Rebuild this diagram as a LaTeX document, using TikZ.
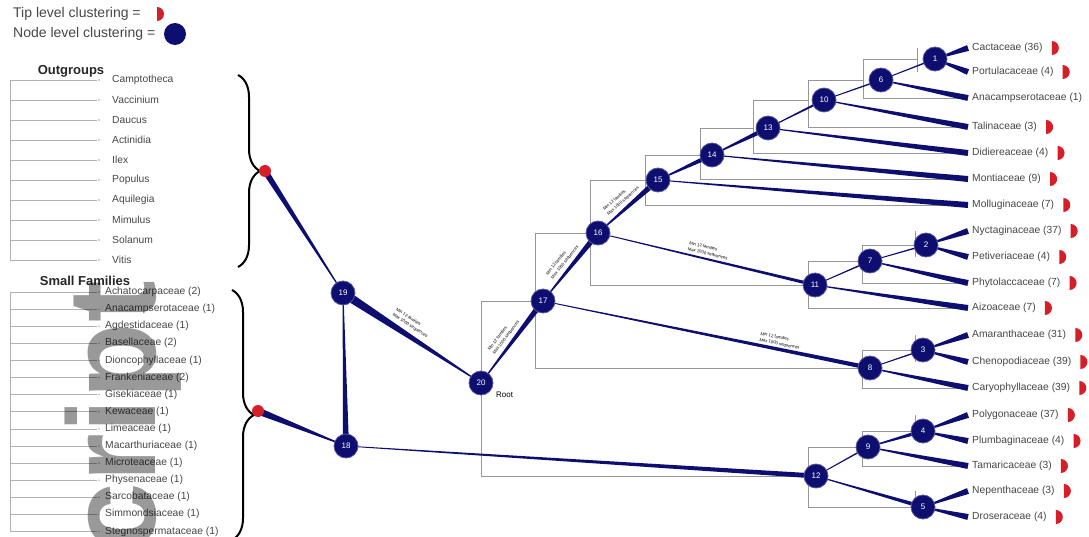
\documentclass[tikz,border=0pt]{standalone}
\usepackage{fontspec}
\setmainfont{Liberation Sans}
\usetikzlibrary{calc,decorations.pathreplacing}

\definecolor{navy}{RGB}{14,14,112}
\definecolor{tipred}{RGB}{214,30,40}
\definecolor{boxgray}{RGB}{150,150,150}
\definecolor{labgray}{RGB}{70,70,70}

% tapered branch: thin at the parent, #4pt half width at the child
\newcommand{\taper}[4][0.4]{%
  \fill[navy] ($(#2)!#1pt!90:(#3)$) -- ($(#2)!#1pt!-90:(#3)$)
    -- ($(#3)!#4pt!90:(#2)$) -- ($(#3)!#4pt!-90:(#2)$) -- cycle;}
% red half disc placed right of a label
\newcommand{\tipmark}[1]{%
  \fill[tipred] ($(#1.east)+(8,-7)$) arc[start angle=-90,end angle=90,radius=7] -- cycle;}

\tikzset{
  bnode/.style={circle,fill=navy,draw=navy!70!white,line width=0.8pt,minimum size=24pt,inner sep=0pt,
    text=white,font=\fontsize{8}{8}\selectfont},
  tiplab/.style={anchor=west,inner sep=1pt,text=labgray,font=\fontsize{10.3}{11}\selectfont},
  leftlab/.style={anchor=west,inner sep=0pt,text=labgray,font=\fontsize{10.3}{11}\selectfont},
  header/.style={anchor=center,inner sep=0pt,font=\bfseries\fontsize{13}{13}\selectfont,text=black!85},
  legtext/.style={anchor=west,inner sep=0pt,font=\fontsize{14}{14}\selectfont,text=labgray},
  annot/.style={sloped,inner sep=0pt,align=left,font=\fontsize{4.3}{6.2}\selectfont},
  gbox/.style={boxgray,line width=0.6pt},
  dend/.style={black!30,line width=0.5pt},
  bracestyle/.style={decorate,decoration={brace,amplitude=22pt},line width=2pt,black},
  stamp/.style={rotate=90,anchor=base east,inner sep=0pt,text=black,opacity=0.4},
}

\begin{document}
\begin{tikzpicture}[x=1pt,y=-1pt]
\useasboundingbox (0,0) rectangle (1089,537);

% ---------------- legend ----------------
\node[legtext] (legtip) at (13,14) {Tip level clustering =};
\fill[tipred] (157,7) arc[start angle=-90,end angle=90,radius=7] -- cycle;
\node[legtext] (legnode) at (13,34) {Node level clustering =};
\node[circle,fill=navy,minimum size=22pt,inner sep=0pt] (legdot) at (175,34) {};

% ---------------- outgroups list ----------------
\node[header] (hout) at (71,71) {Outgroups};
\foreach \name [count=\i from 0] in {Camptotheca,Vaccinium,Daucus,Actinidia,Ilex,Populus,Aquilegia,Mimulus,Solanum,Vitis}{
  \pgfmathsetmacro{\yy}{80+20*\i}
  \node[leftlab] (og\i) at (112,\yy) {\name};
  \draw[dend] (10,\yy) -- (97,\yy);
  \fill[black!35] (99,\yy) circle (0.8);
}
\draw[dend] (10,80) -- (10,260);

% ---------------- small families list ----------------
\node[header] (hsmall) at (85,281) {Small Families};
\foreach \name [count=\i from 0] in {Achatocarpaceae (2),Anacampserotaceae (1),Agdestidaceae (1),Basellaceae (2),Dioncophyllaceae (1),Frankeniaceae (2),Gisekiaceae (1),Kewaceae (1),Limeaceae (1),Macarthuriaceae (1),Microteaceae (1),Physenaceae (1),Sarcobataceae (1),Simmondsiaceae (1),Stegnospermataceae (1)}{
  \pgfmathsetmacro{\yy}{292+17.1*\i}
  \node[leftlab] (sf\i) at (105,\yy) {\name};
  \draw[dend] (10,\yy) -- (97,\yy);
  \fill[black!35] (99,\yy) circle (0.8);
}
\draw[dend] (10,292) -- (10,531);

% ---------------- braces and collapsed tips ----------------
\draw[bracestyle] (238,75) -- (238,267);
\draw[bracestyle] (232,290) -- (232,540);
\coordinate (otip) at (265,171);
\coordinate (stip) at (258,411);

% ---------------- nodes (positions) ----------------
\coordinate (p20) at (481,383);
\coordinate (p19) at (343,293);
\coordinate (p18) at (346,446);
\coordinate (p17) at (543,301);
\coordinate (p16) at (598,233);
\coordinate (p15) at (658,180);
\coordinate (p14) at (712,155);
\coordinate (p13) at (768,128);
\coordinate (p10) at (824,100);
\coordinate (p6)  at (881,80);
\coordinate (p1)  at (935,59);
\coordinate (p11) at (815,285);
\coordinate (p7)  at (870,261);
\coordinate (p2)  at (926,245);
\coordinate (p8)  at (870,368);
\coordinate (p3)  at (923,350);
\coordinate (p12) at (816,476);
\coordinate (p9)  at (868,447);
\coordinate (p4)  at (923,431);
\coordinate (p5)  at (923,507);

% tip ends
\foreach \nm/\yy in {Cact/48,Port/72,Anac/98,Tali/127,Didi/153,Mont/179,Moll/205,Nyct/231,Peti/257,Phyt/283,Aizo/308,Amar/335,Chen/362,Cary/388,Poly/415,Plum/441,Tama/466,Nepe/491,Dros/517}{
  \coordinate (t\nm) at (968,\yy);
}

% ---------------- rectangular backbone (gray) ----------------
\draw[gbox] (481,301) -- (481,476) -- (808,476);
\draw[gbox] (481,301) -- (535,301);
\draw[gbox] (535,233) -- (535,368) -- (862,368);  \draw[gbox] (535,233) -- (590,233);
\draw[gbox] (590,180) -- (590,285) -- (808,285);  \draw[gbox] (590,180) -- (645,180);
\draw[gbox] (645,155) -- (645,205) -- (968,205);  \draw[gbox] (645,155) -- (700,155);
\draw[gbox] (700,128) -- (700,179) -- (968,179);  \draw[gbox] (700,128) -- (753,128);
\draw[gbox] (753,100) -- (753,153) -- (968,153);  \draw[gbox] (753,100) -- (808,100);
\draw[gbox] (808,80) -- (808,127) -- (968,127);   \draw[gbox] (808,80) -- (863,80);
\draw[gbox] (863,59) -- (863,98) -- (968,98);     \draw[gbox] (863,59) -- (917,59);
\draw[gbox] (917,48) -- (917,72);
\draw[gbox] (808,261) -- (808,308) -- (968,308);  \draw[gbox] (808,261) -- (862,261);
\draw[gbox] (862,245) -- (862,283) -- (968,283);  \draw[gbox] (862,245) -- (915,245);
\draw[gbox] (915,231) -- (915,257);
\draw[gbox] (862,350) -- (862,388) -- (968,388);  \draw[gbox] (862,350) -- (915,350);
\draw[gbox] (915,335) -- (915,362);
\draw[gbox] (808,447) -- (808,507) -- (915,507);  \draw[gbox] (808,447) -- (862,447);
\draw[gbox] (862,431) -- (862,466) -- (968,466);  \draw[gbox] (862,431) -- (915,431);
\draw[gbox] (915,415) -- (915,441);
\draw[gbox] (915,491) -- (915,517);

% ---------------- tapered branches ----------------
\taper{p20}{p19}{4.5}
\taper{p20}{p17}{3}
\taper{p19}{otip}{3}
\taper{p19}{p18}{3}
\taper{p18}{stip}{3.5}
\taper{p18}{p12}{2.5}
\taper{p17}{p16}{3}
\taper{p17}{p8}{2.2}
\taper{p16}{p15}{3}
\taper{p16}{p11}{1.6}
\taper{p15}{p14}{2.5}
\taper{p15}{tMoll}{3}
\taper{p14}{p13}{2.5}
\taper{p14}{tMont}{3}
\taper{p13}{p10}{1.2}
\taper{p13}{tDidi}{3}
\taper{p10}{p6}{0.8}
\taper{p10}{tTali}{3}
\taper{p6}{p1}{0.8}
\taper{p6}{tAnac}{3}
\taper{p1}{tCact}{3}
\taper{p1}{tPort}{3}
\taper{p11}{p7}{0.8}
\taper{p11}{tAizo}{3}
\taper{p7}{p2}{0.8}
\taper{p7}{tPhyt}{3}
\taper{p2}{tNyct}{3}
\taper{p2}{tPeti}{3}
\taper{p8}{p3}{0.8}
\taper{p8}{tCary}{3}
\taper{p3}{tAmar}{3}
\taper{p3}{tChen}{3}
\taper{p12}{p9}{0.8}
\taper{p12}{p5}{2}
\taper{p9}{p4}{2}
\taper{p9}{tTama}{3}
\taper{p4}{tPoly}{3}
\taper{p4}{tPlum}{3}
\taper{p5}{tNepe}{3}
\taper{p5}{tDros}{3}

% branch annotations
\path (p19) -- node[annot,pos=0.45,above=7pt] {Min 12 families\\Max 1000 sequences} (p20);
\path (p20) -- node[annot,pos=0.5,above=5pt] {Min 12 families\\Max 1000 sequences} (p17);
\path (p17) -- node[annot,pos=0.5,above=5pt] {Min 12 families\\Max 1000 sequences} (p16);
\path (p16) -- node[annot,pos=0.5,above=5pt] {Min 12 families\\Max 1000 sequences} (p15);
\path (p16) -- node[annot,pos=0.5,above=3pt] {Min 12 families\\Max 1000 sequences} (p11);
\path (p17) -- node[annot,pos=0.72,above=3pt] {Min 12 families\\Max 1000 sequences} (p8);

% collapsed clade markers at the braces
\fill[tipred] (otip) circle (6);
\fill[tipred] (stip) circle (6);

% ---------------- node discs ----------------
\foreach \n in {20,19,18,17,16,15,14,13,10,6,1,11,7,2,8,3,12,9,4,5}{
  \node[bnode] (n\n) at (p\n) {\n};
}
\node[anchor=west,inner sep=0pt,font=\fontsize{8}{8}\selectfont] (rootlab) at (496,395) {Root};

% ---------------- tip labels ----------------
\foreach \nm/\txt in {Cact/Cactaceae (36),Port/Portulacaceae (4),Anac/Anacampserotaceae (1),Tali/Talinaceae (3),Didi/Didiereaceae (4),Mont/Montiaceae (9),Moll/Molluginaceae (7),Nyct/Nyctaginaceae (37),Peti/Petiveriaceae (4),Phyt/Phytolaccaceae (7),Aizo/Aizoaceae (7),Amar/Amaranthaceae (31),Chen/Chenopodiaceae (39),Cary/Caryophyllaceae (39),Poly/Polygonaceae (37),Plum/Plumbaginaceae (4),Tama/Tamaricaceae (3),Nepe/Nepenthaceae (3),Dros/Droseraceae (4)}{
  \node[tiplab] (l\nm) at ($(t\nm)+(3,0)$) {\txt};
  \tipmark{l\nm}
}

% ---------------- vertical page stamp ----------------
\node[stamp] (stampword) at (155,281) {\bfseries\fontsize{125}{125}\selectfont script};
\end{tikzpicture}
\end{document}
